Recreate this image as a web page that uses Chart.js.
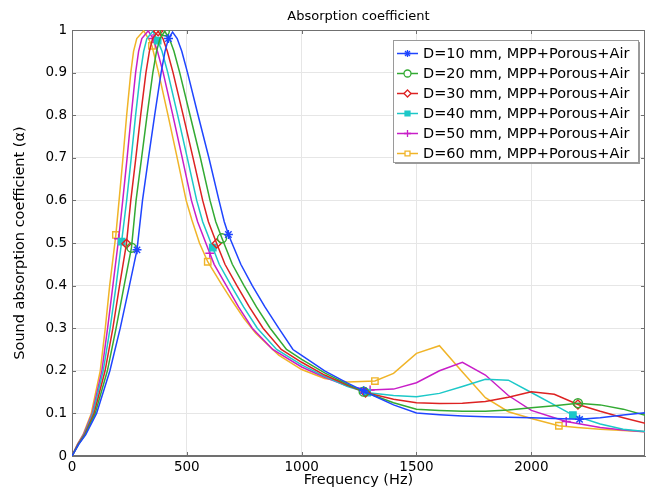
<!DOCTYPE html>
<html>
<head>
<meta charset="utf-8">
<script src="https://cdn.jsdelivr.net/npm/chart.js@4/dist/chart.umd.min.js"></script>
<style>
  html, body { margin: 0; padding: 0; background: #fff; }
  #wrap { width: 648px; height: 491px; }
</style>
</head>
<body>
<div id="wrap"><canvas id="absChart"></canvas></div>
<script>
// frequency (Hz) / absorption values, one pair of arrays per curve
const freqD10  = [0, 30, 60, 107, 165, 210, 250, 283, 307, 333, 360, 388, 405, 420, 438, 458, 478, 503, 549, 596, 640, 663, 681, 735, 785, 840, 900, 962, 1000, 1100, 1200, 1270, 1300, 1400, 1500, 1600, 1700, 1800, 1900, 2000, 2100, 2210, 2300, 2400, 2500];
const alphaD10 = [0, 0.028, 0.05, 0.1, 0.2, 0.3, 0.4, 0.484, 0.6, 0.7, 0.8, 0.9, 0.95, 0.98, 0.995, 0.98, 0.95, 0.9, 0.8, 0.7, 0.6, 0.55, 0.52, 0.45, 0.4, 0.35, 0.3, 0.25, 0.236, 0.2, 0.171, 0.153, 0.145, 0.12, 0.101, 0.097, 0.094, 0.092, 0.091, 0.09, 0.088, 0.086, 0.09, 0.096, 0.102];
const markD10  = [283, 420, 681, 1270, 2210];

const freqD20  = [0, 29, 57, 101, 154, 192, 227, 259, 279, 303, 327, 352, 368, 383, 404, 424, 444, 469, 514, 559, 601, 626, 653, 698, 749, 803, 863, 934, 1000, 1100, 1200, 1270, 1300, 1400, 1500, 1600, 1700, 1800, 1900, 2000, 2100, 2203, 2300, 2400, 2500];
const alphaD20 = [0, 0.028, 0.05, 0.1, 0.2, 0.3, 0.4, 0.489, 0.6, 0.7, 0.8, 0.9, 0.95, 0.98, 0.997, 0.98, 0.95, 0.9, 0.8, 0.7, 0.6, 0.55, 0.511, 0.45, 0.4, 0.35, 0.3, 0.25, 0.227, 0.195, 0.168, 0.151, 0.145, 0.125, 0.11, 0.107, 0.105, 0.105, 0.108, 0.113, 0.118, 0.124, 0.12, 0.11, 0.095];
const markD20  = [259, 404, 653, 1270, 2203];

const freqD30  = [0, 27, 54, 96, 144, 178, 207, 237, 256, 278, 299, 322, 337, 351, 375, 396, 415, 440, 484, 527, 569, 594, 630, 666, 718, 772, 832, 911, 1000, 1100, 1200, 1278, 1300, 1400, 1500, 1600, 1700, 1800, 1900, 2000, 2100, 2203, 2300, 2400, 2500];
const alphaD30 = [0, 0.028, 0.05, 0.1, 0.2, 0.3, 0.4, 0.498, 0.6, 0.7, 0.8, 0.9, 0.95, 0.98, 0.997, 0.98, 0.95, 0.9, 0.8, 0.7, 0.6, 0.55, 0.499, 0.45, 0.4, 0.35, 0.3, 0.25, 0.22, 0.19, 0.166, 0.149, 0.146, 0.133, 0.125, 0.123, 0.124, 0.128, 0.138, 0.151, 0.145, 0.121, 0.105, 0.09, 0.076];
const markD30  = [237, 375, 630, 1278, 2203];

const freqD40  = [0, 26, 52, 91, 136, 166, 192, 216, 238, 258, 277, 298, 312, 326, 352, 373, 392, 417, 460, 502, 543, 569, 613, 641, 693, 747, 807, 891, 1000, 1100, 1200, 1285, 1300, 1400, 1500, 1600, 1700, 1800, 1900, 2000, 2100, 2181, 2300, 2400, 2500];
const alphaD40 = [0, 0.028, 0.05, 0.1, 0.2, 0.3, 0.4, 0.503, 0.6, 0.7, 0.8, 0.9, 0.95, 0.98, 0.997, 0.975, 0.95, 0.9, 0.8, 0.7, 0.6, 0.55, 0.489, 0.45, 0.4, 0.35, 0.3, 0.25, 0.214, 0.187, 0.163, 0.149, 0.148, 0.142, 0.139, 0.147, 0.163, 0.18, 0.178, 0.149, 0.12, 0.096, 0.075, 0.063, 0.057];
const markD40  = [216, 373, 613, 1285, 2181];

const freqD50  = [0, 25, 50, 88, 130, 155, 178, 203, 221, 240, 258, 277, 290, 304, 332, 353, 372, 397, 439, 480, 520, 547, 600, 619, 672, 725, 785, 874, 1000, 1100, 1200, 1298, 1400, 1500, 1600, 1700, 1800, 1900, 2000, 2100, 2152, 2300, 2400, 2500];
const alphaD50 = [0, 0.028, 0.05, 0.1, 0.2, 0.3, 0.4, 0.51, 0.6, 0.7, 0.8, 0.9, 0.95, 0.98, 0.998, 0.98, 0.95, 0.9, 0.8, 0.7, 0.6, 0.55, 0.476, 0.45, 0.4, 0.35, 0.3, 0.25, 0.209, 0.185, 0.164, 0.155, 0.157, 0.172, 0.2, 0.22, 0.19, 0.142, 0.107, 0.09, 0.081, 0.067, 0.061, 0.057];
const markD50  = [203, 353, 600, 1298, 2152];

const freqD60  = [0, 24, 48, 84, 123, 145, 164, 191, 205, 222, 238, 256, 268, 282, 312, 333, 348, 377, 418, 458, 497, 522, 555, 591, 650, 700, 750, 800, 900, 1000, 1100, 1200, 1319, 1400, 1500, 1600, 1700, 1800, 1900, 2000, 2120, 2200, 2300, 2400, 2500];
const alphaD60 = [0, 0.028, 0.05, 0.1, 0.2, 0.3, 0.4, 0.519, 0.6, 0.7, 0.8, 0.9, 0.95, 0.98, 0.998, 0.98, 0.963, 0.9, 0.8, 0.7, 0.6, 0.554, 0.5, 0.456, 0.404, 0.362, 0.322, 0.288, 0.237, 0.203, 0.182, 0.174, 0.176, 0.194, 0.241, 0.259, 0.197, 0.137, 0.104, 0.088, 0.071, 0.067, 0.063, 0.06, 0.057];
const markD60  = [191, 348, 591, 1319, 2120];

const seriesLabels = ['D=10 mm, MPP+Porous+Air', 'D=20 mm, MPP+Porous+Air', 'D=30 mm, MPP+Porous+Air',
                      'D=40 mm, MPP+Porous+Air', 'D=50 mm, MPP+Porous+Air', 'D=60 mm, MPP+Porous+Air'];
const xTicks = [0, 500, 1000, 1500, 2000];

const colours = ['#1f45ff', '#33aa33', '#dd2222', '#1cc8c8', '#c81ec8', '#f0b428'];
const markers = ['star', 'circle', 'rectRot', 'rect', 'cross', 'rect'];
const filled  = [false, false, false, true, false, false];

const freqs  = [freqD10, freqD20, freqD30, freqD40, freqD50, freqD60];
const alphas = [alphaD10, alphaD20, alphaD30, alphaD40, alphaD50, alphaD60];
const marks  = [markD10, markD20, markD30, markD40, markD50, markD60];

Chart.defaults.font.family = "'DejaVu Sans', sans-serif";
Chart.defaults.color = '#000';

const datasets = freqs.map((f, i) => ({
    label: seriesLabels[i],
    data: f.map((x, j) => ({x: x, y: alphas[i][j]})),
    borderColor: colours[i],
    backgroundColor: filled[i] ? colours[i] : 'rgba(0,0,0,0)',
    borderWidth: 1.5,
    tension: 0,
    pointStyle: markers[i],
    pointBorderWidth: 1.4,
    pointRadius: ctx => (ctx.raw && marks[i].includes(ctx.raw.x)) ? 4.5 : 0,
    pointHoverRadius: 0
}));

// title centred over the plot area, not the whole canvas
const plotTitle = {
    id: 'plotTitle',
    afterDraw(chart) {
        const {ctx, chartArea: a} = chart;
        ctx.save();
        ctx.font = "13px 'DejaVu Sans'";
        ctx.fillStyle = '#000';
        ctx.textAlign = 'center';
        ctx.textBaseline = 'middle';
        ctx.fillText('Absorption coefficient', (a.left + a.right) / 2, 17);
        ctx.restore();
    }
};

// legend box drawn inside the plot, top right, like the original
const insideLegend = {
    id: 'insideLegend',
    afterDatasetsDraw(chart) {
        const ctx = chart.ctx;
        const x0 = 393, y0 = 40, w = 245, h = 122;
        ctx.save();
        ctx.fillStyle = '#9a9a9a';
        ctx.fillRect(x0 + 2, y0 + 2, w, h);
        ctx.fillStyle = '#fff';
        ctx.fillRect(x0, y0, w, h);
        ctx.strokeStyle = '#9a9a9a';
        ctx.lineWidth = 1;
        ctx.strokeRect(x0 + 0.5, y0 + 0.5, w, h);
        ctx.font = "14.5px 'DejaVu Sans'";
        ctx.textBaseline = 'middle';
        chart.data.datasets.forEach((ds, i) => {
            const y = y0 + 13.5 + i * 20;
            ctx.strokeStyle = colours[i];
            ctx.lineWidth = 1.5;
            ctx.beginPath();
            ctx.moveTo(397, y);
            ctx.lineTo(418, y);
            ctx.stroke();
            ctx.fillStyle = filled[i] ? colours[i] : '#fff';
            ctx.lineWidth = 1.3;
            Chart.helpers.drawPoint(ctx, {pointStyle: markers[i], radius: 3.5, rotation: 0, borderWidth: 1.3}, 407.5, y);
            ctx.fillStyle = '#000';
            ctx.fillText(ds.label, 423, y + 1);
        });
        ctx.restore();
    }
};

// plot frame with small inward ticks on all sides
const frame = {
    id: 'frame',
    beforeDatasetsDraw(chart) {
        const {ctx, chartArea: a, scales} = chart;
        ctx.save();
        ctx.strokeStyle = '#707070';
        ctx.lineWidth = 1;
        ctx.strokeRect(a.left + 0.5, a.top + 0.5, a.right - a.left - 1, a.bottom - a.top - 1);
        ctx.beginPath();
        scales.y.ticks.forEach(t => {
            const y = Math.round(scales.y.getPixelForValue(t.value)) + 0.5;
            ctx.moveTo(a.left, y); ctx.lineTo(a.left + 4, y);
            ctx.moveTo(a.right, y); ctx.lineTo(a.right - 4, y);
        });
        scales.x.ticks.forEach(t => {
            const x = Math.round(scales.x.getPixelForValue(t.value)) + 0.5;
            ctx.moveTo(x, a.bottom); ctx.lineTo(x, a.bottom - 4);
            ctx.moveTo(x, a.top); ctx.lineTo(x, a.top + 4);
        });
        ctx.stroke();
        ctx.restore();
    }
};

new Chart(document.getElementById('absChart'), {
    type: 'line',
    data: { datasets: datasets },
    options: {
        responsive: true,
        maintainAspectRatio: false,
        animation: false,
        events: [],
        layout: { padding: { left: 8, right: 3, top: 30, bottom: 2 } },
        plugins: {
            legend: { display: false },
            tooltip: { enabled: false },
            title: { display: false }
        },
        scales: {
            x: {
                type: 'linear',
                min: 0,
                max: 2495,
                afterBuildTicks: s => { s.ticks = xTicks.map(v => ({value: v})); },
                afterFit: s => { s.height = 33; },
                ticks: { font: { size: 13.5 }, padding: 3, callback: v => String(v), maxRotation: 0 },
                grid: { color: '#e6e6e6', drawTicks: false },
                border: { color: '#707070' },
                title: { display: true, text: 'Frequency (Hz)', font: { size: 14.5 }, padding: { top: 0, bottom: 0 } }
            },
            y: {
                min: 0,
                max: 1,
                afterFit: s => { s.width = 64; },
                ticks: { stepSize: 0.1, font: { size: 13.5 }, padding: 5, callback: v => String(Math.round(v * 10) / 10) },
                grid: { color: '#e6e6e6', drawTicks: false },
                border: { color: '#707070' },
                title: { display: true, text: 'Sound absorption coefficient (α)', font: { size: 14.5 }, padding: { top: 4, bottom: 0 } }
            }
        }
    },
    plugins: [frame, insideLegend, plotTitle]
});
</script>
</body>
</html>
